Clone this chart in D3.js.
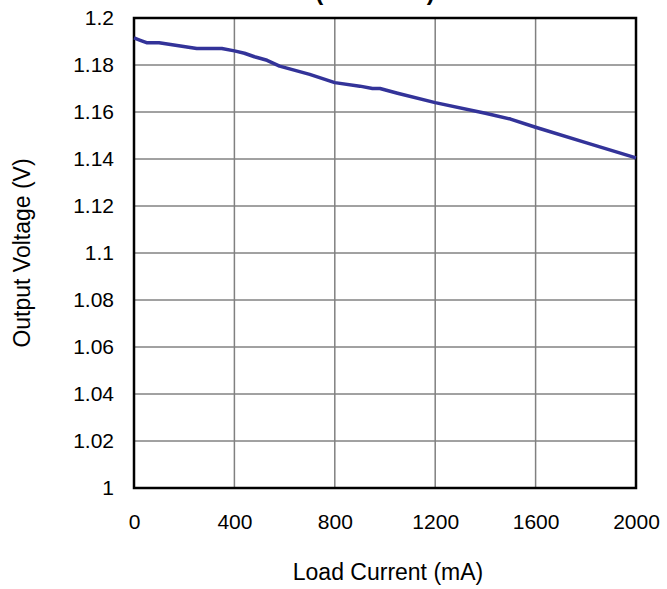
<!DOCTYPE html>
<html>
<head>
<meta charset="utf-8">
<script src="https://cdn.jsdelivr.net/npm/d3@7"></script>
<style>
 body{margin:0;background:#fff;}
 svg{display:block;font-family:"Liberation Sans",Arial,sans-serif;}
</style>
</head>
<body>
<div id="chart"></div>
<script>
// load current (mA) vs output voltage (V)
const current=[0,25,50,100,250,350,400,440,480,530,580,700,800,900,950,980,1050,1200,1400,1500,1600,1800,2000];
const voltage=[1.1915,1.1905,1.1895,1.1895,1.187,1.187,1.186,1.185,1.1835,1.182,1.1795,1.176,1.1725,1.171,1.170,1.170,1.168,1.164,1.1595,1.157,1.1535,1.147,1.1405];
const xTicks=[0,400,800,1200,1600,2000];
const yTicks=[1,1.02,1.04,1.06,1.08,1.1,1.12,1.14,1.16,1.18,1.2];

const W=667,H=589,m={l:134,r:31,t:18,b:101};
const svg=d3.select('#chart').append('svg').attr('width',W).attr('height',H);
const x=d3.scaleLinear().domain([0,2000]).range([m.l,W-m.r]);
const y=d3.scaleLinear().domain([1,1.2]).range([H-m.b,m.t]);

// title, mostly cut off at the top
svg.append('text').attr('x',375).attr('y',0).attr('text-anchor','middle')
 .attr('font-size',24).attr('font-weight','bold').text('(VIN=3.3V)');

// grid
svg.append('g').selectAll('line').data(yTicks.slice(1,-1)).enter().append('line')
 .attr('x1',x(0)).attr('x2',x(2000)).attr('y1',d=>y(d)).attr('y2',d=>y(d))
 .attr('stroke','#444').attr('stroke-width',1);
svg.append('g').selectAll('line').data(xTicks.slice(1,-1)).enter().append('line')
 .attr('y1',y(1)).attr('y2',y(1.2)).attr('x1',d=>x(d)).attr('x2',d=>x(d))
 .attr('stroke','#808080').attr('stroke-width',1.5);

// axes
const xa=svg.append('g').attr('transform',`translate(0,${y(1)})`)
 .call(d3.axisBottom(x).tickValues(xTicks).tickSize(0).tickPadding(26).tickFormat(d3.format('d')));
const ya=svg.append('g').attr('transform',`translate(${x(0)},0)`)
 .call(d3.axisLeft(y).tickValues(yTicks).tickSize(0).tickPadding(20).tickFormat(d3.format('~g')));
[xa,ya].forEach(a=>{a.select('.domain').remove();a.selectAll('text').attr('font-size',21).attr('fill','#000').attr('font-family','"Liberation Sans",Arial,sans-serif');});

// frame
svg.append('rect').attr('x',x(0)).attr('y',y(1.2)).attr('width',x(2000)-x(0)).attr('height',y(1)-y(1.2))
 .attr('fill','none').attr('stroke','#000').attr('stroke-width',2.5);

// data line
const line=d3.line().x(d=>x(d[0])).y(d=>y(d[1]));
svg.append('path').datum(current.map((c,i)=>[c,voltage[i]])).attr('d',line)
 .attr('fill','none').attr('stroke','#333399').attr('stroke-width',3.5).attr('stroke-linejoin','round');

// axis titles
svg.append('text').attr('x',(x(0)+x(2000))/2+3).attr('y',580).attr('text-anchor','middle')
 .attr('font-size',23).text('Load Current (mA)');
svg.append('text').attr('transform',`translate(30,${(y(1)+y(1.2))/2}) rotate(-90)`).attr('text-anchor','middle')
 .attr('font-size',23).text('Output Voltage (V)');
</script>
</body>
</html>
